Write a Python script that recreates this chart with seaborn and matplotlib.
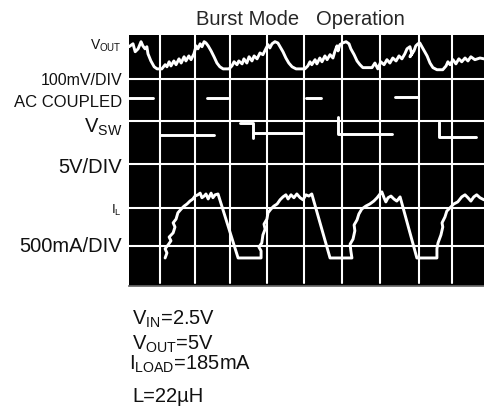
import numpy as np
import pandas as pd
import seaborn as sns
import matplotlib.pyplot as plt

# scope screen, all values in divisions (x = time div, y = vertical div)
grid_x = [1.00, 1.96, 2.92, 3.93, 4.95, 5.99, 7.03, 8.10, 9.00]
grid_y = [0.96, 1.87, 2.92, 3.95, 4.95]

vout_t = [0.15, 0.26, 0.32, 0.40, 0.48, 0.53, 0.59, 0.64, 0.67, 0.75, 0.84, 0.92, 1.05, 1.14, 1.19, 1.25,
          1.30, 1.38, 1.44, 1.52, 1.58, 1.66, 1.71, 1.79, 1.85, 1.93,
          1.99, 2.04, 2.10, 2.15, 2.21, 2.26, 2.32, 2.40, 2.48, 2.56, 2.64, 2.73, 2.89, 2.97, 3.03, 3.11,
          3.16, 3.25, 3.30, 3.38, 3.44, 3.52, 3.58, 3.66, 3.74, 3.82,
          3.90, 3.96, 4.01, 4.07, 4.15, 4.23, 4.29, 4.37, 4.45, 4.53, 4.62, 4.73, 4.97, 5.05, 5.11, 5.16,
          5.25, 5.30, 5.38, 5.44, 5.52, 5.58, 5.66, 5.74,
          5.79, 5.85, 5.88, 5.93, 6.01, 6.10, 6.18, 6.23, 6.32, 6.40, 6.48, 6.56, 6.81, 6.89, 6.97, 7.05,
          7.14, 7.22, 7.30, 7.38, 7.47, 7.55, 7.63, 7.71,
          7.77, 7.85, 7.90, 7.85, 7.96, 8.01, 8.07, 8.12, 8.21, 8.32, 8.40, 8.48, 8.59, 8.75, 8.84, 8.89,
          8.95, 9.03, 9.11, 9.19, 9.27, 9.36, 9.44, 9.52, 9.63, 9.77, 9.88]
vout_v = [5.72, 5.79, 5.60, 5.67, 5.84, 5.74, 5.67, 5.72, 5.55, 5.38, 5.24, 5.19, 5.19, 5.29, 5.24, 5.36,
          5.26, 5.38, 5.29, 5.43, 5.33, 5.48, 5.38, 5.50, 5.41, 5.55,
          5.74, 5.67, 5.79, 5.72, 5.84, 5.81, 5.74, 5.62, 5.48, 5.33, 5.24, 5.19, 5.19, 5.26, 5.36, 5.29,
          5.38, 5.31, 5.43, 5.33, 5.48, 5.38, 5.50, 5.43, 5.57, 5.53,
          5.67, 5.77, 5.69, 5.79, 5.84, 5.81, 5.72, 5.60, 5.45, 5.33, 5.24, 5.19, 5.19, 5.26, 5.36, 5.29,
          5.41, 5.31, 5.45, 5.36, 5.50, 5.41, 5.53, 5.45,
          5.60, 5.74, 5.62, 5.77, 5.81, 5.84, 5.79, 5.67, 5.53, 5.38, 5.29, 5.22, 5.22, 5.33, 5.19, 5.36,
          5.29, 5.41, 5.33, 5.45, 5.38, 5.50, 5.43, 5.55,
          5.67, 5.72, 5.55, 5.48, 5.62, 5.74, 5.79, 5.81, 5.67, 5.50, 5.33, 5.22, 5.17, 5.17, 5.26, 5.36,
          5.29, 5.41, 5.31, 5.43, 5.36, 5.45, 5.38, 5.48, 5.41, 5.45, 5.43]

# switch node, separate pieces
vsw_seg = [0, 0, 1, 1, 2, 2, 3, 3, 3, 4, 4, 5, 5, 6, 6, 6, 7, 7, 8, 8, 8]
vsw_t = [0.15, 0.81, 1.00, 2.48, 2.29, 2.86, 3.19, 3.55, 3.55, 3.55, 4.92, 5.00, 5.41,
         5.88, 5.88, 7.36, 7.44, 8.07, 8.64, 8.64, 9.66]
vsw_v = [4.50, 4.50, 3.61, 3.61, 4.50, 4.50, 3.90, 3.90, 3.54, 3.66, 3.66, 4.50, 4.50,
         4.04, 3.64, 3.64, 4.52, 4.52, 3.92, 3.56, 3.56]

il_t = [1.14, 1.19, 1.14, 1.22, 1.30, 1.25, 1.36, 1.41, 1.36, 1.44, 1.49, 1.58, 1.66, 1.74, 1.82, 1.90,
        1.96, 2.04, 2.10, 2.15, 2.21, 2.26, 2.32, 2.40, 2.45, 2.51, 2.59,
        3.14, 3.77, 3.77, 3.71, 3.79, 3.82, 3.88, 3.85, 3.93, 3.96, 4.04, 4.12, 4.21, 4.29, 4.37,
        4.45, 4.51, 4.59, 4.67, 4.75, 4.84, 4.92, 5.00, 5.08, 5.16,
        5.66, 6.26, 6.23, 6.21, 6.29, 6.34, 6.32, 6.40, 6.45, 6.53, 6.64, 6.75, 6.86, 6.95, 7.03,
        7.08, 7.14, 7.19, 7.25, 7.33, 7.41, 7.49, 7.58,
        8.04, 8.59, 8.59, 8.62, 8.70, 8.75, 8.73, 8.81, 8.86, 8.95, 9.05, 9.16, 9.27, 9.36, 9.44,
        9.52, 9.60, 9.68, 9.77, 9.88]
il_v = [0.67, 0.79, 0.89, 0.98, 1.08, 1.17, 1.27, 1.41, 1.51, 1.60, 1.75, 1.84, 1.91, 1.96, 2.03, 2.08,
        2.15, 2.18, 2.22, 2.11, 2.15, 2.20, 2.08, 2.22, 2.11, 2.18, 2.20,
        0.67, 0.67, 0.84, 0.93, 1.03, 1.22, 1.36, 1.48, 1.60, 1.75, 1.84, 1.91, 1.96, 2.06, 2.13,
        2.18, 2.08, 2.18, 2.11, 2.20, 2.11, 2.06, 2.18, 2.15, 2.20,
        0.67, 0.67, 0.84, 1.00, 1.12, 1.32, 1.46, 1.58, 1.72, 1.84, 1.91, 1.96, 2.03, 2.11, 2.20,
        2.25, 2.11, 2.01, 2.11, 2.15, 2.08, 2.03, 2.13,
        0.67, 0.67, 0.89, 1.03, 1.22, 1.41, 1.51, 1.65, 1.79, 1.87, 1.96, 2.01, 2.13, 2.18, 2.11,
        2.03, 2.13, 2.18, 2.11, 2.06]

sns.set_theme(style='white')
plt.rcParams['font.family'] = ['Liberation Sans', 'DejaVu Sans']
plt.rcParams['mathtext.fontset'] = 'custom'
plt.rcParams['mathtext.rm'] = 'Liberation Sans'
plt.rcParams['mathtext.default'] = 'regular'

W, H = 484, 410
fig = plt.figure(figsize=(W / 100, H / 100), dpi=100)
ax = fig.add_axes([129 / W, (H - 287) / H, 355 / W, 251 / H])
ax.set_facecolor('black')

for gx in grid_x:
    ax.axvline(gx, ymin=0.012, color='white', lw=1.5, zorder=1)
for gy in grid_y:
    ax.axhline(gy, color='white', lw=1.5, zorder=1)

trace = dict(color='white', lw=2.1, estimator=None, sort=False, legend=False, ax=ax, zorder=3)
sns.lineplot(x=vout_t, y=vout_v, **trace)
sw = pd.DataFrame({'t': vsw_t, 'v': vsw_v, 'seg': vsw_seg})
sns.lineplot(data=sw, x='t', y='v', units='seg', **trace)
sns.lineplot(x=il_t, y=il_v, **trace)

ax.set_xlim(0.15, 9.88)
ax.set_ylim(0, 6.0)
ax.set_xticks([])
ax.set_yticks([])
ax.set_xlabel('')
ax.set_ylabel('')
for s in ax.spines.values():
    s.set_visible(False)
ax.spines['bottom'].set_visible(True)
ax.spines['bottom'].set_color('#666666')


def put(x, y, s, size, ha='right'):
    fig.text(x / W, 1 - y / H, s, fontsize=size, ha=ha, va='baseline', color='#111111')


fig.text(300 / W, 1 - 25 / H, 'Burst Mode   Operation', fontsize=14.5, ha='center', va='baseline')
put(122, 50, '$V_{OUT}$', 10)
put(122, 85, '100mV/DIV', 11.5)
put(122, 107, 'AC COUPLED', 12)
put(122, 133, '$V_{SW}$', 14.5)
put(122, 173, '5V/DIV', 14.5)
put(122, 214, '$I_L$', 9.5)
put(122, 252, '500mA/DIV', 14.5)
put(132, 325, '$V_{IN}$=2.5V', 14.5, 'left')
put(132, 350, '$V_{OUT}$=5V', 14.5, 'left')
put(129, 370, '$I_{LOAD}$=185mA', 14.5, 'left')
put(132, 402, 'L=22µH', 14.5, 'left')

fig.savefig('out.png', dpi=100)
